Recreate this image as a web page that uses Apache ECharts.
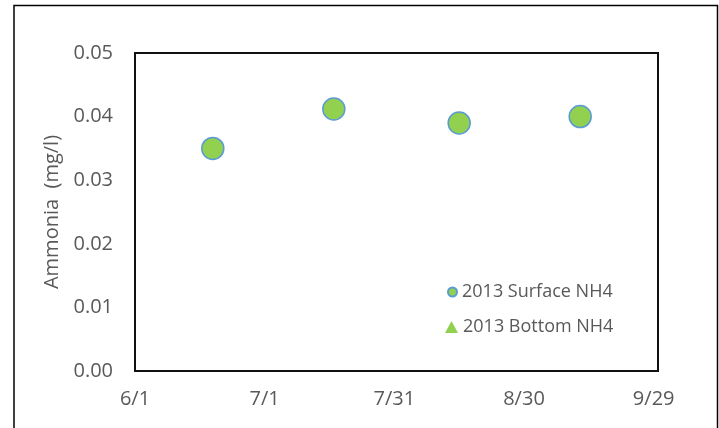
<!DOCTYPE html>
<html>
<head>
<meta charset="utf-8">
<script src="https://cdn.jsdelivr.net/npm/echarts@6/dist/echarts.min.js"></script>
<style>
	html, body { margin: 0; padding: 0; background: #fff; }
	#chart { width: 719px; height: 428px; }
</style>
</head>
<body>
<div id="chart"></div>
<script>
	// sample dates (2013) and ammonia values
	let surfaceDates = ['6/19', '7/17', '8/15', '9/12'];
	let surfaceValues = [0.035, 0.0412, 0.039, 0.040];
	let bottomDates = [];
	let bottomValues = [];
	let xTickLabels = ['6/1', '7/1', '7/31', '8/30', '9/29'];
	let yTickLabels = ['0.00', '0.01', '0.02', '0.03', '0.04', '0.05'];

	// days since 6/1
	function dayOf(s) {
		let p = s.split('/');
		return (Date.UTC(2013, +p[0] - 1, +p[1]) - Date.UTC(2013, 5, 1)) / 86400000;
	}

	function pairs(dates, values) {
		let out = [];
		for (let i = 0; i < dates.length; i++) {
			out.push([dayOf(dates[i]), values[i]]);
		}
		return out;
	}

	let font = 'Open Sans';
	let grey = '#595959';
	let chart = echarts.init(document.getElementById('chart'));
	chart.setOption({
		animation: false,
		grid: {
			left: 135,
			top: 53,
			right: 61,
			bottom: 57,
			show: true,
			borderColor: '#111',
			borderWidth: 2
		},
		graphic: [{
			type: 'rect',
			shape: { x: 14, y: 5.5, width: 703.5, height: 500 },
			style: { fill: 'none', stroke: '#000', lineWidth: 1.5 },
			silent: true
		}],
		legend: [{
			data: [{ name: '2013 Surface NH4', icon: 'circle' }],
			left: 442,
			top: 278,
			itemWidth: 9,
			itemHeight: 9,
			itemGap: 8,
			textStyle: { color: grey, fontFamily: font, fontSize: 18 }
		}, {
			data: [{ name: '2013 Bottom NH4', icon: 'triangle' }],
			left: 440,
			top: 313,
			itemWidth: 13,
			itemHeight: 12,
			itemGap: 6,
			textStyle: { color: grey, fontFamily: font, fontSize: 18 }
		}],
		xAxis: {
			type: 'value',
			min: 0,
			max: 121,
			interval: 30,
			axisLine: { show: false },
			axisTick: { show: false },
			splitLine: { show: false },
			axisLabel: {
				color: grey,
				fontFamily: font,
				fontSize: 20,
				margin: 18,
				showMaxLabel: false,
				formatter: function(v) {
					return xTickLabels[Math.round(v / 30)] || '';
				}
			}
		},
		yAxis: {
			type: 'value',
			min: 0,
			max: 0.05,
			interval: 0.01,
			name: 'Ammonia  (mg/l)',
			nameLocation: 'middle',
			nameGap: 72,
			nameTextStyle: { color: grey, fontFamily: font, fontSize: 20 },
			axisLine: { show: false },
			axisTick: { show: false },
			splitLine: { show: false },
			axisLabel: {
				color: grey,
				fontFamily: font,
				fontSize: 20,
				margin: 22,
				formatter: function(v) {
					return yTickLabels[Math.round(v / 0.01)];
				}
			}
		},
		series: [{
				name: '2013 Surface NH4',
				type: 'scatter',
				symbol: 'circle',
				symbolSize: 22,
				itemStyle: { color: '#92D050', borderColor: '#5B9BD5', borderWidth: 1.5, opacity: 1 },
				data: pairs(surfaceDates, surfaceValues)
			},
			{
				name: '2013 Bottom NH4',
				type: 'scatter',
				symbol: 'triangle',
				symbolSize: 14,
				itemStyle: { color: '#92D050', opacity: 1 },
				data: pairs(bottomDates, bottomValues)
			}
		]
	});
</script>
</body>
</html>
